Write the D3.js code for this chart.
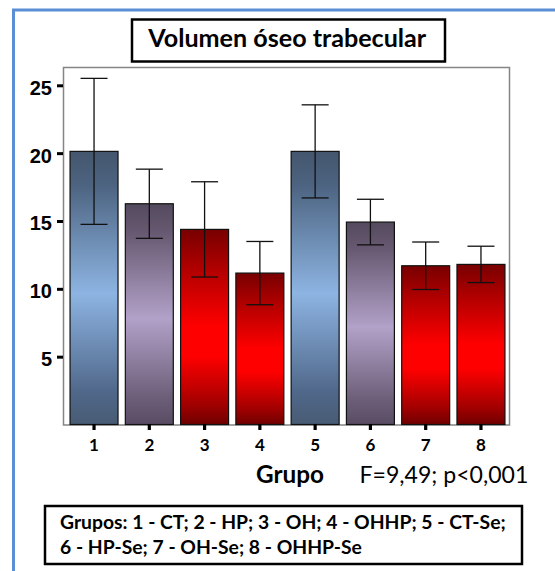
<!DOCTYPE html>
<html>
<head>
<meta charset="utf-8">
<script src="https://cdn.jsdelivr.net/npm/d3@7"></script>
<style>
  html, body { margin: 0; padding: 0; background: #fff; }
  #root svg { display: block; }
</style>
</head>
<body>
<div id="root"></div>
<script>
const groups = ["1", "2", "3", "4", "5", "6", "7", "8"]
const groupNames = ["CT", "HP", "OH", "OHHP", "CT-Se", "HP-Se", "OH-Se", "OHHP-Se"]
const means = [20.13, 16.27, 14.38, 11.16, 20.13, 14.92, 11.70, 11.80]
const errors = [5.38, 2.55, 3.51, 2.33, 3.43, 1.68, 1.75, 1.34]
const yTicks = [5, 10, 15, 20, 25]
const title = "Volumen óseo trabecular"
const xTitle = "Grupo"
const statText = "F=9,49; p<0,001"

function drawChart() {
  const ROOT_ELEM = d3.select("#root")
  ROOT_ELEM.selectAll("*").remove()

  const width = 555
  const height = 571
  const frame = { left: 63.5, right: 509.5, top: 67.5, bottom: 425 }
  const textFont = "Lato, 'Open Sans', sans-serif"

  const wrapper = ROOT_ELEM.append("svg")
    .attr("width", width)
    .attr("height", height)

  // scale font size so the text spans the width seen in the original
  const fitText = (sel, targetWidth) => {
    const node = sel.node()
    const size = parseFloat(sel.style("font-size"))
    const w = node.getComputedTextLength()
    if (w > 0) sel.style("font-size", `${(size * targetWidth / w).toFixed(2)}px`)
    return sel
  }

  // gradients: dark - light - dark
  const defs = wrapper.append("defs")
  const gradients = {
    blue: [["0%", "#44566d"], ["12%", "#4c6380"], ["52%", "#8db4e2"], ["88%", "#50688a"], ["100%", "#485b74"]],
    purple: [["0%", "#544a5e"], ["12%", "#65576f"], ["52%", "#b2a1c8"], ["88%", "#6c5e78"], ["100%", "#584c63"]],
    red: [["0%", "#780000"], ["20%", "#b00000"], ["50%", "#ff0000"], ["65%", "#ff0000"], ["90%", "#a00000"], ["100%", "#700000"]],
  }
  Object.entries(gradients).forEach(([key, stops]) => {
    const g = defs.append("linearGradient")
      .attr("id", `grad-${key}`)
      .attr("x1", 0).attr("y1", 0).attr("x2", 0).attr("y2", 1)
    stops.forEach(([off, col]) => g.append("stop").attr("offset", off).attr("stop-color", col))
  })
  const fillFor = name => {
    const base = name.replace("-Se", "")
    if (base === "CT") return "url(#grad-blue)"
    if (base === "HP") return "url(#grad-purple)"
    return "url(#grad-red)"
  }

  // outer blue border (cut by the page edges)
  wrapper.append("rect")
    .attr("x", 13.5).attr("y", 10)
    .attr("width", 560).attr("height", 580)
    .attr("fill", "none")
    .attr("stroke", "#5a8fd6")
    .attr("stroke-width", 3)

  const xScale = d3.scaleBand()
    .domain(groups)
    .range([66.4, 508.6])
    .paddingInner(0.132)
    .paddingOuter(0.066)

  const yScale = d3.scaleLinear()
    .domain([0, 25])
    .range([424.5, 85.3])

  // frame
  wrapper.append("rect")
    .attr("x", frame.left).attr("y", frame.top)
    .attr("width", frame.right - frame.left)
    .attr("height", frame.bottom - frame.top)
    .attr("fill", "none")
    .attr("stroke", "#858585")
    .attr("stroke-width", 1.5)

  const data = groups.map((g, i) => ({ g, name: groupNames[i], mean: means[i], err: errors[i] }))

  const bars = wrapper.append("g")
  bars.selectAll("rect")
    .data(data)
    .join("rect")
    .attr("x", d => xScale(d.g))
    .attr("y", d => yScale(d.mean))
    .attr("width", xScale.bandwidth())
    .attr("height", d => yScale(0) - yScale(d.mean))
    .attr("fill", d => fillFor(d.name))
    .attr("stroke", "#111")
    .attr("stroke-width", 1.2)

  // error bars
  const capW = 27
  const errG = wrapper.append("g")
    .attr("stroke", "#111")
    .attr("stroke-width", 1.3)
  const errBars = errG.selectAll("g")
    .data(data)
    .join("g")
  const cx = d => xScale(d.g) + xScale.bandwidth() / 2
  errBars.append("line")
    .attr("x1", cx).attr("x2", cx)
    .attr("y1", d => yScale(d.mean + d.err))
    .attr("y2", d => yScale(d.mean - d.err))
  errBars.append("line")
    .attr("x1", d => cx(d) - capW / 2)
    .attr("x2", d => cx(d) + capW / 2)
    .attr("y1", d => yScale(d.mean + d.err))
    .attr("y2", d => yScale(d.mean + d.err))
  errBars.append("line")
    .attr("x1", d => cx(d) - capW / 2)
    .attr("x2", d => cx(d) + capW / 2)
    .attr("y1", d => yScale(d.mean - d.err))
    .attr("y2", d => yScale(d.mean - d.err))

  // y axis
  const yAxis = wrapper.append("g")
    .attr("transform", `translate(${frame.left - 0.5},0)`)
    .call(d3.axisLeft(yScale).tickValues(yTicks).tickSize(6).tickPadding(5))
  yAxis.select(".domain").remove()
  yAxis.selectAll(".tick line").attr("stroke", "#000").attr("stroke-width", 3)
  yAxis.selectAll(".tick text")
    .attr("fill", "#000")
    .attr("dy", "0.45em")
    .style("font-family", "'Liberation Sans', Arial, sans-serif")
    .style("font-weight", "bold")
    .style("font-size", "20px")

  // x axis
  const xAxis = wrapper.append("g")
    .attr("transform", `translate(0,${frame.bottom - 1})`)
    .call(d3.axisBottom(xScale).tickSize(6).tickPadding(9))
  xAxis.select(".domain").remove()
  xAxis.selectAll(".tick line").attr("stroke", "#000").attr("stroke-width", 3.2)
  xAxis.selectAll(".tick text")
    .attr("fill", "#000")
    .style("font-family", textFont)
    .style("font-weight", "bold")
    .style("font-size", "17px")

  // title box
  wrapper.append("rect")
    .attr("x", 132).attr("y", 19.5)
    .attr("width", 313).attr("height", 42)
    .attr("fill", "#fff")
    .attr("stroke", "#000")
    .attr("stroke-width", 2.5)
  const titleText = wrapper.append("text")
    .attr("x", 148.3).attr("y", 46.7)
    .style("font-family", textFont)
    .style("font-weight", "bold")
    .style("font-size", "21px")
    .text(title)
  fitText(titleText, 278)

  // x title + statistic
  const xTitleText = wrapper.append("text")
    .attr("x", 256).attr("y", 483)
    .style("font-family", textFont)
    .style("font-weight", "bold")
    .style("font-size", "20px")
    .text(xTitle)
  fitText(xTitleText, 68)
  const stat = wrapper.append("text")
    .attr("x", 359.5).attr("y", 483)
    .style("font-family", textFont)
    .style("font-size", "20px")
    .text(statText)
  fitText(stat, 169)

  // legend box
  wrapper.append("rect")
    .attr("x", 45).attr("y", 506)
    .attr("width", 477).attr("height", 58)
    .attr("fill", "#fff")
    .attr("stroke", "#000")
    .attr("stroke-width", 2.5)
  const items = groups.map((g, i) => `${g} - ${groupNames[i]}`)
  const lines = [
    "Grupos: " + items.slice(0, 5).join("; ") + ";",
    items.slice(5).join("; "),
  ]
  const legendTexts = wrapper.append("g")
    .selectAll("text")
    .data(lines)
    .join("text")
    .attr("x", 60)
    .attr("y", (d, i) => 528.5 + i * 25)
    .style("font-family", textFont)
    .style("font-weight", "bold")
    .style("font-size", "16px")
    .text(d => d)
  fitText(d3.select(legendTexts.nodes()[0]), 446)
  // second line uses the same size as the first
  d3.select(legendTexts.nodes()[1]).style("font-size", d3.select(legendTexts.nodes()[0]).style("font-size"))
}

drawChart()
</script>
</body>
</html>
